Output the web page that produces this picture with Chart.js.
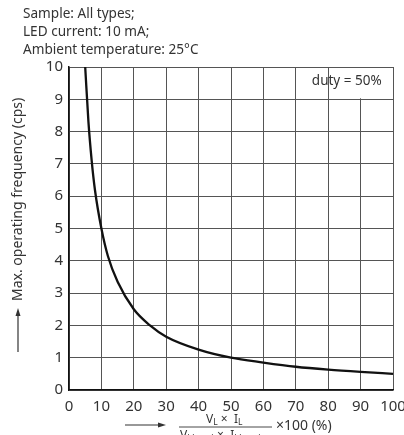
<!DOCTYPE html>
<html><head><meta charset="utf-8">
<script src="https://cdn.jsdelivr.net/npm/chart.js@4/dist/chart.umd.min.js"></script>
<style>html,body{margin:0;padding:0;background:#fff}canvas{display:block}</style>
</head><body>
<canvas id="c" width="404" height="435"></canvas>
<script>
const dutyX = [5, 6, 7, 8, 10, 12, 15, 20, 25, 30, 40, 50, 60, 70, 80, 90, 100];
const freqY = [10, 8.3, 7.1, 6.2, 5.0, 4.15, 3.35, 2.5, 2.0, 1.65, 1.25, 1.0, 0.85, 0.72, 0.63, 0.56, 0.5];
const xTicks = [0, 10, 20, 30, 40, 50, 60, 70, 80, 90, 100];
const yTicks = [0, 1, 2, 3, 4, 5, 6, 7, 8, 9, 10];
const headerLines = ["Sample: All types;", "LED current: 10 mA;", "Ambient temperature: 25°C"];
const yTitle = "Max. operating frequency (cps)";
const dutyLabel = "duty = 50%";

const FONT = '"Noto Sans", "Open Sans", sans-serif';
const TXT = '#333';

const annot = {
  id: 'annot',
  beforeDatasetsDraw(chart) {
    const {ctx, scales: {x, y}} = chart;
    ctx.save();
    ctx.fillStyle = '#fff';
    ctx.fillRect(x.getPixelForValue(90) - 2, y.getPixelForValue(10) + 1, 4, y.getPixelForValue(9) - y.getPixelForValue(10) - 2);
    ctx.restore();
  },
  afterDraw(chart) {
    const {ctx, scales: {x, y}} = chart;
    ctx.save();
    ctx.fillStyle = TXT;
    ctx.strokeStyle = TXT;
    ctx.font = '13.6px ' + FONT;
    ctx.textBaseline = 'middle';
    ctx.textAlign = 'left';
    headerLines.forEach((t, i) => ctx.fillText(t, 23, 14 + i * 18.3));
    ctx.font = '13.5px ' + FONT;
    ctx.textAlign = 'right';
    ctx.fillText(dutyLabel, x.getPixelForValue(96.5), y.getPixelForValue(9.57));
    // y title rotated with arrow
    ctx.save();
    ctx.translate(18, 0);
    ctx.rotate(-Math.PI / 2);
    ctx.textAlign = 'left';
    ctx.textBaseline = 'middle';
    ctx.font = '14px ' + FONT;
    ctx.fillText(yTitle, -301, 0);
    ctx.lineWidth = 1.2;
    ctx.beginPath(); ctx.moveTo(-352, 0); ctx.lineTo(-313, 0); ctx.stroke();
    ctx.beginPath(); ctx.moveTo(-308, 0); ctx.lineTo(-316, -2.5); ctx.lineTo(-316, 2.5); ctx.closePath(); ctx.fill();
    ctx.restore();
    // x title
    const ay = 425;
    ctx.lineWidth = 1.2;
    ctx.beginPath(); ctx.moveTo(125, ay); ctx.lineTo(160, ay); ctx.stroke();
    ctx.beginPath(); ctx.moveTo(166, ay); ctx.lineTo(158, ay - 2.5); ctx.lineTo(158, ay + 2.5); ctx.closePath(); ctx.fill();
    ctx.lineWidth = 0.9;
    ctx.beginPath(); ctx.moveTo(179, 427); ctx.lineTo(272, 427); ctx.stroke();
    ctx.textBaseline = 'alphabetic';
    ctx.textAlign = 'left';
    function sub(parts, startX, base) {
      let px = startX;
      parts.forEach(p => {
        ctx.font = (p[1] ? '8.5px ' : '12px ') + FONT;
        ctx.fillText(p[0], px, base + (p[1] ? 2 : 0));
        px += ctx.measureText(p[0]).width;
      });
    }
    sub([["V", 0], ["L", 1], [" ×  ", 0], ["I", 0], ["L", 1]], 206, 423);
    sub([["V", 0], ["L(max)", 1], [" ×  ", 0], ["I", 0], ["L(max)", 1]], 180, 439);
    ctx.font = '14px ' + FONT;
    ctx.textBaseline = 'middle';
    ctx.fillText("×100 (%)", 276, 426);
    ctx.restore();
  }
};

new Chart(document.getElementById('c'), {
  type: 'line',
  data: {
    datasets: [{
      data: dutyX.map((v, i) => ({x: v, y: freqY[i]})),
      borderColor: '#111',
      borderWidth: 2.3,
      pointRadius: 0,
      cubicInterpolationMode: 'monotone',
      fill: false
    }]
  },
  options: {
    responsive: false,
    animation: false,
    layout: {padding: {left: 0, top: 67, right: 11, bottom: 0}},
    plugins: {legend: {display: false}, tooltip: {enabled: false}},
    scales: {
      x: {
        type: 'linear', min: 0, max: 100,
        afterBuildTicks: s => { s.ticks = xTicks.map(v => ({value: v})); },
        afterFit: s => { s.height = 45; s.paddingLeft = 0; s.paddingRight = 0; },
        grid: {color: '#555', lineWidth: 1, drawTicks: false},
        border: {color: '#111', width: 1.5},
        ticks: {color: TXT, font: {family: FONT, size: 15}, padding: 8, maxRotation: 0, autoSkip: false}
      },
      y: {
        type: 'linear', min: 0, max: 10,
        afterBuildTicks: s => { s.ticks = yTicks.map(v => ({value: v})); },
        afterFit: s => { s.width = 69; s.paddingTop = 0; s.paddingBottom = 0; },
        grid: {color: '#555', lineWidth: 1, drawTicks: false},
        border: {color: '#111', width: 1.5},
        ticks: {color: TXT, font: {family: FONT, size: 15}, padding: 6, autoSkip: false}
      }
    }
  },
  plugins: [annot]
});
</script>
</body></html>
